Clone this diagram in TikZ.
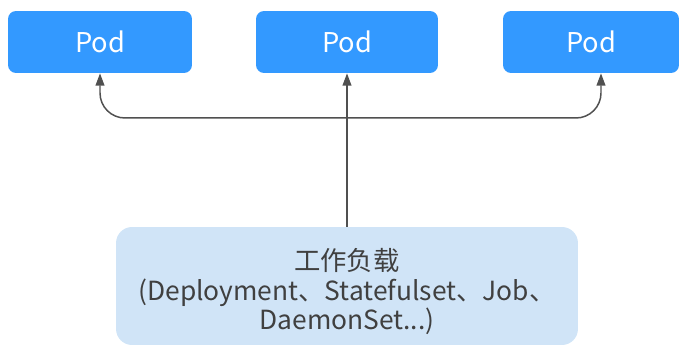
\documentclass[tikz,border=0pt]{standalone}
\usepackage{fontspec}
\setmainfont{Noto Sans CJK SC}
\usetikzlibrary{arrows.meta,positioning}
\definecolor{podblue}{HTML}{3399FF}
\definecolor{loadblue}{HTML}{D0E4F7}
\definecolor{linegray}{HTML}{505050}
\definecolor{textgray}{HTML}{404040}
\newcommand{\loadfont}{\fontsize{15}{17}\selectfont\lineskiplimit=-8pt\relax}
\newcommand{\Pod}[3]% pos, name, width
{\node[pod,minimum width=#3] (#2) at (#1) {Pod};
}
\newcommand{\Link}[3]%
{\draw[link,#3] (#1) -- (#2);}

\begin{document}
\begin{tikzpicture}[x=0.02cm,y=-0.02cm,
    pod/.style={fill=podblue,rounded corners=0.16cm,minimum height=1.24cm,
      inner sep=0,text=white,font=\fontsize{15.5}{18}\selectfont},
    load/.style={fill=loadblue,rounded corners=0.32cm,minimum width=9.24cm,
      minimum height=2.36cm,inner sep=0,align=center,text=textgray,
      font=\loadfont},
    link/.style={draw=linegray,line width=0.85pt,
      >={Triangle[length=7pt,width=5pt]}}]
        \useasboundingbox (0,0) rectangle (680,347);
        \Pod{100,42}{podL}{3.68cm}
        \Pod{347,42}{podM}{3.64cm}
        \Pod{591,42}{podR}{3.52cm}
        \node[load] (load) at (347,286)
          {\rule{0pt}{19pt}工作负载\\(Deployment、Statefulset、Job、\\DaemonSet...)};
        \coordinate (hub) at (347,118);
        \draw[link,<->,rounded corners=0.5cm] (podL.south) |- (hub)
          -| ([xshift=0.2cm]podR.south);
        \Link{load.north}{podM.south}{->}
      \end{tikzpicture}
\end{document}
